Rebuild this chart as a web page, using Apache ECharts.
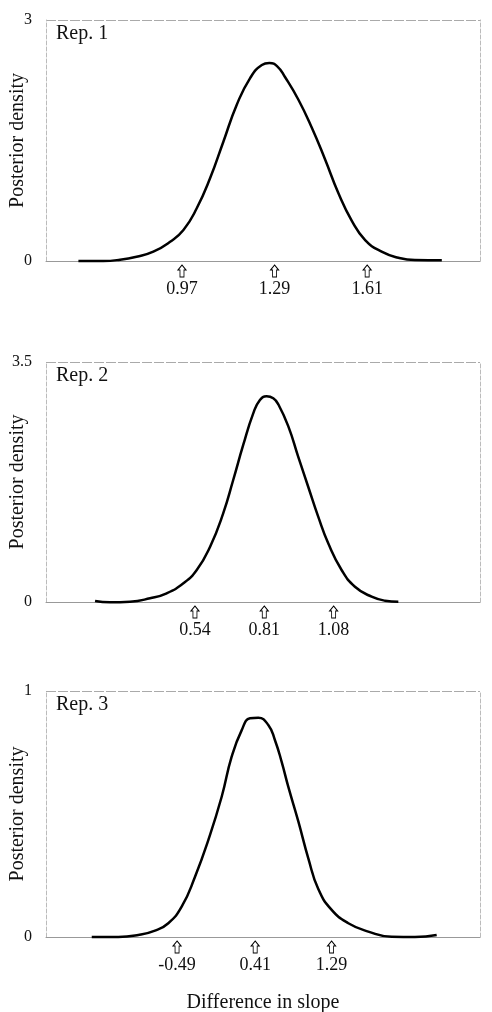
<!DOCTYPE html>
<html>
<head>
<meta charset="utf-8">
<script src="https://cdn.jsdelivr.net/npm/echarts@6/dist/echarts.min.js"></script>
<style>
  html, body { margin: 0; padding: 0; background: #fff; }
  #chart { width: 492px; height: 1012px; }
</style>
</head>
<body>
<div id="chart"></div>
<script>
// values
const rep1X = [0.612, 0.698, 0.756, 0.813, 0.871, 0.929, 0.975, 1.021, 1.067, 1.113, 1.159, 1.205, 1.246, 1.272, 1.300, 1.326, 1.372, 1.418, 1.464, 1.510, 1.557, 1.603, 1.660, 1.718, 1.775, 1.868];
const rep1Y = [0.000, 0.000, 0.016, 0.054, 0.116, 0.240, 0.386, 0.656, 1.029, 1.485, 1.942, 2.274, 2.440, 2.465, 2.420, 2.290, 2.010, 1.665, 1.270, 0.850, 0.500, 0.261, 0.116, 0.041, 0.012, 0.008];

const rep2X = [0.151, 0.209, 0.287, 0.365, 0.430, 0.495, 0.547, 0.599, 0.650, 0.689, 0.728, 0.767, 0.793, 0.819, 0.845, 0.865, 0.904, 0.942, 0.981, 1.020, 1.059, 1.111, 1.163, 1.228, 1.280, 1.332];
const rep2Y = [0.015, -0.004, 0.004, 0.054, 0.127, 0.272, 0.467, 0.807, 1.293, 1.779, 2.290, 2.751, 2.946, 3.000, 2.970, 2.880, 2.557, 2.119, 1.681, 1.244, 0.856, 0.467, 0.223, 0.077, 0.019, 0.004];

const rep3X = [-1.473, -1.167, -0.937, -0.744, -0.591, -0.437, -0.283, -0.130, 0.024, 0.139, 0.255, 0.350, 0.446, 0.561, 0.638, 0.715, 0.791, 0.907, 1.022, 1.137, 1.291, 1.483, 1.713, 1.983, 2.251, 2.501];
const rep3Y = [0.000, 0.000, 0.008, 0.026, 0.056, 0.123, 0.245, 0.394, 0.570, 0.733, 0.841, 0.889, 0.891, 0.862, 0.800, 0.712, 0.611, 0.470, 0.320, 0.195, 0.110, 0.056, 0.022, 0.001, 0.000, 0.008];

// arrow positions (also their labels)
const rep1Arrows = [0.97, 1.29, 1.61];
const rep2Arrows = [0.54, 0.81, 1.08];
const rep3Arrows = [-0.49, 0.41, 1.29];

const panelTitles = ["Rep. 1", "Rep. 2", "Rep. 3"];
const yMax = [3, 3.5, 1];
const xRange = [[0.5, 2.0], [-0.04, 1.65], [-2, 3]];

const FONT = '"Liberation Serif", "Times New Roman", serif';
const grids = [
  { left: 46, top: 20, width: 434, height: 241, outerBoundsMode: 'none', containLabel: false },
  { left: 46, top: 362, width: 434, height: 240, outerBoundsMode: 'none', containLabel: false },
  { left: 46, top: 691, width: 434, height: 246, outerBoundsMode: 'none', containLabel: false }
];
const curves = [[rep1X, rep1Y], [rep2X, rep2Y], [rep3X, rep3Y]];
const arrows = [rep1Arrows, rep2Arrows, rep3Arrows];

const arrowPath = 'path://M4,0 L8,5 L6,5 L6,12 L2,12 L2,5 L0,5 Z';

let xAxes = [], yAxes = [], series = [], titles = [];
for (let i = 0; i < 3; i++) {
  xAxes.push({
    type: 'value',
    gridIndex: i,
    min: xRange[i][0],
    max: xRange[i][1],
    axisLine: { show: true, onZero: false, lineStyle: { color: '#999', width: 1 } },
    axisTick: { show: false },
    axisLabel: { show: false },
    splitLine: { show: false },
    name: i === 2 ? 'Difference in slope' : '',
    nameLocation: 'middle',
    nameGap: 56,
    nameMoveOverlap: false,
    nameTextStyle: { fontFamily: FONT, fontSize: 20, color: '#111' }
  });
  yAxes.push({
    type: 'value',
    gridIndex: i,
    min: 0,
    max: yMax[i],
    interval: yMax[i],
    axisLine: { show: true, onZero: false, lineStyle: { color: '#bbb', type: [4, 2] } },
    axisTick: { show: false },
    axisLabel: { fontFamily: FONT, fontSize: 16, color: '#111', margin: 14 },
    splitLine: { show: true, lineStyle: { color: '#aaa', type: [10, 2] } },
    name: 'Posterior density',
    nameLocation: 'middle',
    nameGap: 18,
    nameMoveOverlap: false,
    nameTextStyle: { fontFamily: FONT, fontSize: 20, color: '#111' }
  });
  titles.push({
    text: panelTitles[i],
    left: 56,
    top: grids[i].top + 4,
    padding: 0,
    textStyle: { fontFamily: FONT, fontSize: 20, fontWeight: 'normal', color: '#111' }
  });

  const xs = curves[i][0], ys = curves[i][1];
  series.push({
    type: 'line',
    xAxisIndex: i,
    yAxisIndex: i,
    data: xs.map((x, k) => [x, ys[k]]),
    smooth: 0.5,
    showSymbol: false,
    silent: true,
    clip: false,
    lineStyle: { color: '#000', width: 2.5 },
    markPoint: {
      silent: true,
      symbol: arrowPath,
      symbolSize: [8, 12],
      symbolOffset: [0, 10],
      itemStyle: { color: '#fff', borderColor: '#000', borderWidth: 1 },
      label: {
        show: true,
        position: 'bottom',
        distance: 3,
        formatter: '{b}',
        fontFamily: FONT,
        fontSize: 18,
        color: '#111'
      },
      data: arrows[i].map(v => ({ coord: [v, 0], name: v.toFixed(2) }))
    }
  });
}
// right edge of each box
for (let i = 0; i < 3; i++) {
  yAxes.push({
    type: 'value',
    gridIndex: i,
    position: 'right',
    min: 0,
    max: yMax[i],
    axisLine: { show: true, onZero: false, lineStyle: { color: '#bbb', type: [4, 2] } },
    axisTick: { show: false },
    axisLabel: { show: false },
    splitLine: { show: false }
  });
}

const chart = echarts.init(document.getElementById('chart'));
chart.setOption({
  animation: false,
  backgroundColor: '#fff',
  title: titles,
  grid: grids,
  xAxis: xAxes,
  yAxis: yAxes,
  series: series
});
</script>
</body>
</html>
